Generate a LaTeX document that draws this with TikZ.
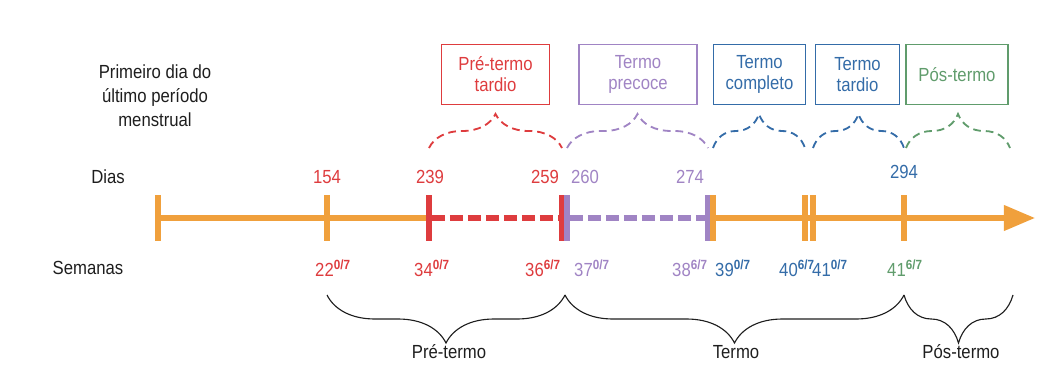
\documentclass[tikz,border=0pt]{standalone}
\usepackage{fontspec}
\setmainfont{Liberation Sans}[FakeStretch=0.88]
\usepackage{tikz}
\usetikzlibrary{positioning,calc,arrows.meta,decorations.pathreplacing}
\definecolor{axisorange}{RGB}{240,160,60}
\definecolor{pretred}{RGB}{222,60,62}
\definecolor{earlypurple}{RGB}{160,132,196}
\definecolor{fullblue}{RGB}{52,108,168}
\definecolor{postgreen}{RGB}{96,156,108}
\definecolor{inkgray}{RGB}{30,30,30}
\newcommand{\wk}[2]{#1\textsuperscript{\bfseries #2}}
\tikzstyle{tick} = [rectangle, fill=axisorange, minimum width=0.13cm, minimum height=1.13cm, inner sep=0pt]
\tikzstyle{axis} = [line width=3.6pt, axisorange]
\tikzstyle{dashaxis} = [line width=3.6pt, dash pattern=on 0.33cm off 0.12cm]
\tikzstyle{classbox} = [rectangle, draw, line width=0.8pt, minimum height=1.48cm, align=center, font=\fontsize{13.5}{15}\selectfont]
\tikzstyle{topbrace} = [decorate, decoration={brace, amplitude=0.85cm}, line width=1.3pt, dash pattern=on 5.5pt off 3.5pt]
\tikzstyle{bottombrace} = [decorate, decoration={brace, mirror, amplitude=1.2cm}, line width=0.8pt, inkgray]
\tikzstyle{lbl} = [font=\fontsize{13.5}{17}\selectfont, inner sep=0pt]

\begin{document}
\begin{tikzpicture}[x=0.025cm, y=-0.025cm]
    \useasboundingbox (0,0) rectangle (1058,386);

    % Row titles
    \node[lbl, align=center, inkgray] (first) at (155,96) {Primeiro dia do\\último período\\menstrual};
    \node[lbl, inkgray] (dias) at (108,177) {Dias};
    \node[lbl, inkgray] (semanas) at (88,268) {Semanas};

    % Ticks
    \node[tick] (t0) at (158,218) {};
    \node[tick] (t154) at (327,218) {};
    \node[tick, fill=pretred] (t239) at (429,218) {};
    \node[tick, fill=pretred] (t259) at (562,218) {};
    \node[tick, fill=earlypurple] (t260) at (567,218) {};
    \node[tick, fill=earlypurple] (t274) at (708,218) {};
    \node[tick] (t274o) at (713,218) {};
    \node[tick] (t40) at (805,218) {};
    \node[tick] (t41) at (813,218) {};
    \node[tick] (t294) at (904,218) {};
    \coordinate (tip) at (1035,218);
    \coordinate (rightend) at (1010,218);
    \coordinate (braceline) at (0,148);
    \coordinate (lowline) at (0,295);

    % Axis
    \draw[axis] (t0) -- (t239);
    \draw[dashaxis, pretred] (t239) -- (t259);
    \draw[dashaxis, earlypurple] (t260) -- (t274);
    \draw[axis, -{Triangle[length=0.78cm, width=0.62cm]}] (t274o) -- (tip);

    % Days
    \node[lbl, pretred] (d154) at (327,177) {154};
    \node[lbl, pretred] (d239) at (430,177) {239};
    \node[lbl, pretred] (d259) at (545,177) {259};
    \node[lbl, earlypurple] (d260) at (585,177) {260};
    \node[lbl, earlypurple] (d274) at (690,177) {274};
    \node[lbl, fullblue] (d294) at (904,172) {294};

    % Weeks
    \node[lbl, pretred] (w22) at (333,268) {\wk{22}{0/7}};
    \node[lbl, pretred] (w34) at (432,268) {\wk{34}{0/7}};
    \node[lbl, pretred] (w36) at (543,268) {\wk{36}{6/7}};
    \node[lbl, earlypurple] (w37) at (592,268) {\wk{37}{0/7}};
    \node[lbl, earlypurple] (w38) at (690,268) {\wk{38}{6/7}};
    \node[lbl, fullblue] (w39) at (733,268) {\wk{39}{0/7}};
    \node[lbl, fullblue] (w40) at (797,268) {\wk{40}{6/7}};
    \node[lbl, fullblue] (w41) at (830,268) {\wk{41}{0/7}};
    \node[lbl, postgreen] (w41b) at (905,268) {\wk{41}{6/7}};

    % Classification boxes
    \node[classbox, pretred, minimum width=2.68cm] (late) at (495.5,74.5) {Pré-termo\\tardio};
    \node[classbox, earlypurple, minimum width=2.95cm] (early) at (638,74.5) {Termo\\precoce};
    \node[classbox, fullblue, minimum width=2.28cm] (full) at (759.5,74.5) {Termo\\completo};
    \node[classbox, fullblue, minimum width=2.08cm] (latet) at (857.5,74.5) {Termo\\tardio};
    \node[classbox, postgreen, minimum width=2.55cm] (post) at (957,74.5) {Pós-termo};

    % Dashed braces
    \draw[topbrace, pretred] (t239 |- braceline) -- (t259 |- braceline);
    \draw[topbrace, earlypurple] (t260 |- braceline) -- (t274 |- braceline);
    \draw[topbrace, fullblue] (t274o |- braceline) -- (t40 |- braceline);
    \draw[topbrace, fullblue] (t41 |- braceline) -- (t294 |- braceline);
    \draw[topbrace, postgreen] ($(t294 |- braceline)+(2,0)$) -- (rightend |- braceline);

    % Bottom braces
    \draw[bottombrace] (t154 |- lowline) -- ($(t259 |- lowline)+(3,0)$);
    \draw[bottombrace] ($(t259 |- lowline)+(3,0)$) -- (t294 |- lowline);
    \draw[bottombrace] (t294 |- lowline) -- ($(rightend |- lowline)+(3,0)$);
    \node[lbl, inkgray] (pre) at (449,352) {Pré-termo};
    \node[lbl, inkgray] (term) at (736,352) {Termo};
    \node[lbl, inkgray] (pos) at (961,352) {Pós-termo};
\end{tikzpicture}
\end{document}
